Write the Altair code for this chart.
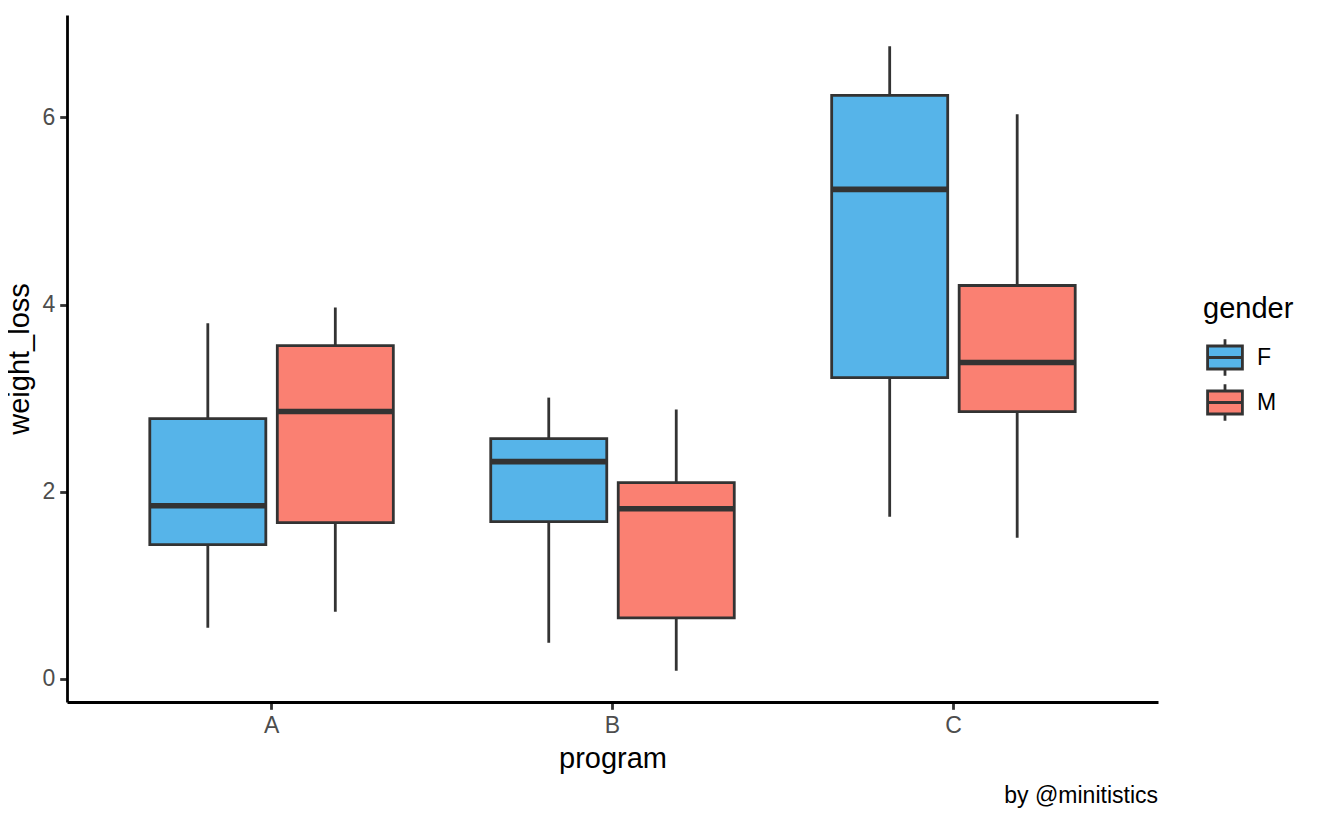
import altair as alt
import pandas as pd

programs = ["A", "A", "B", "B", "C", "C"]
genders = ["F", "M", "F", "M", "F", "M"]
lower = [0.545, 0.717, 0.385, 0.086, 1.733, 1.508]
q1 = [1.433, 1.668, 1.679, 0.652, 3.219, 2.856]
median = [1.85, 2.856, 2.321, 1.818, 5.23, 3.38]
q3 = [2.78, 3.56, 2.567, 2.096, 6.235, 4.203]
upper = [3.80, 3.968, 3.005, 2.877, 6.76, 6.032]

gender_domain = ["F", "M"]
gender_colors = ["#56B4E9", "#FA8072"]
y_ticks = [0, 2, 4, 6]

df = pd.DataFrame({
    "program": programs, "gender": genders, "lower": lower, "q1": q1,
    "median": median, "q3": q3, "upper": upper,
})

FONT = "Liberation Sans"
DARK = "#333333"
LW = 2.8

x_enc = alt.X("program:N", title="program",
              scale=alt.Scale(paddingInner=0, paddingOuter=0.1),
              axis=alt.Axis(labelAngle=0))
xo_enc = alt.XOffset("gender:N", scale=alt.Scale(domain=gender_domain, paddingInner=0.09, paddingOuter=0.382))
y_scale = alt.Scale(domain=[-0.248, 7.094], nice=False, zero=False)

base = alt.Chart(df)

whisk = base.mark_rule(color=DARK, strokeWidth=LW).encode(
    x=x_enc, xOffset=xo_enc,
    y=alt.Y("lower:Q", scale=y_scale, title="weight_loss",
            axis=alt.Axis(values=y_ticks, format="d")),
    y2="upper:Q",
)

box_path = "M-0.85,-0.56H0.85V0.56H-0.85Z M-0.85,0H0.85 M0,-0.56V-0.89 M0,0.56V0.89"

box = base.mark_bar(stroke=DARK, strokeWidth=LW, opacity=1).encode(
    x=x_enc, xOffset=xo_enc,
    y=alt.Y("q1:Q", scale=y_scale),
    y2="q3:Q",
    fill=alt.Fill("gender:N", scale=alt.Scale(domain=gender_domain, range=gender_colors),
                  legend=alt.Legend(title="gender", orient="none", legendX=1136, legendY=280,
                                    symbolType=box_path, symbolSize=1681,
                                    symbolStrokeColor=DARK, symbolStrokeWidth=LW,
                                    symbolOpacity=1, labelOffset=10, clipHeight=43,
                                    rowPadding=2, titlePadding=12, padding=0)),
)

med = base.mark_tick(color=DARK, size=116, thickness=5.6, opacity=1).encode(
    x=x_enc, xOffset=xo_enc,
    y=alt.Y("median:Q", scale=y_scale),
)

chart = alt.layer(whisk, box, med).properties(
    width=1091, height=687,
    autosize=alt.AutoSizeParams(type="none"),
    padding={"left": 59, "top": 7, "right": 150, "bottom": 106},
    title=alt.TitleParams("by @minitistics", orient="bottom", anchor="end", frame="group",
                          fontSize=23, fontWeight="normal", font=FONT, color="black", offset=12),
).configure_view(stroke=None).configure_axis(
    grid=False, domainColor="black", domainWidth=LW, tickColor=DARK, tickWidth=LW, tickSize=7.3,
    labelFont=FONT, labelFontSize=23, labelColor="#4d4d4d", labelPadding=5,
    titleFont=FONT, titleFontSize=29, titleColor="black", titleFontWeight="normal", titlePadding=7,
).configure_legend(
    titleFont=FONT, titleFontSize=29, titleColor="black", titleFontWeight="normal",
    labelFont=FONT, labelFontSize=23, labelColor="black",
)

chart.save("out.html", embed_options={"renderer": "svg", "actions": False})
